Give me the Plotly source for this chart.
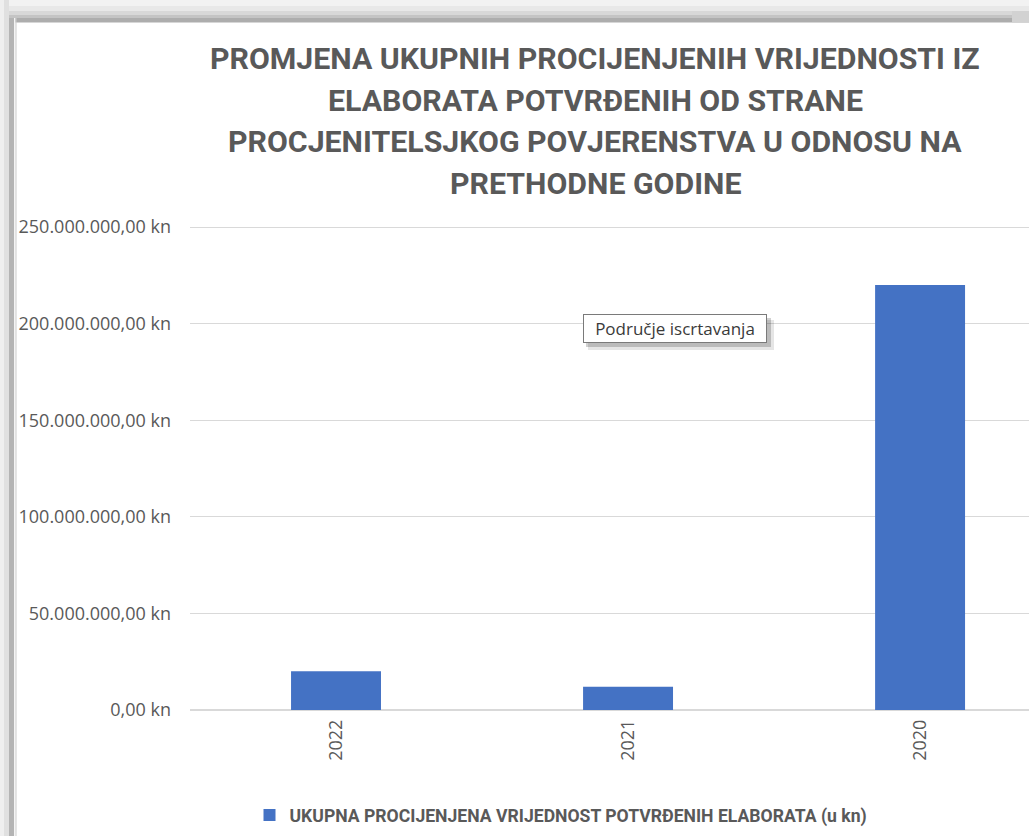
import plotly.graph_objects as go

# Data
years = ["2022", "2021", "2020"]
values_kn = [20_000_000, 12_000_000, 220_000_000]
series_name = "UKUPNA PROCIJENJENA VRIJEDNOST POTVRĐENIH ELABORATA (u kn)"
title_lines = [
    "PROMJENA UKUPNIH PROCIJENJENIH VRIJEDNOSTI IZ",
    "ELABORATA POTVRĐENIH OD STRANE",
    "PROCJENITELSJKOG POVJERENSTVA U ODNOSU NA",
    "PRETHODNE GODINE",
]
tooltip_text = "Područje iscrtavanja"

# Canvas / plot-area geometry (pixels)
W, H = 1029, 836
PL, PR, PT, PB = 190, 0, 217, 126
PW = W - PL - PR
PH = H - PT - PB


def px(x):
    return (x - PL) / PW


def py(y):
    return (H - PB - y) / PH


TEXT = "#595959"
BAR = "#4472C4"
GRID = "#d9d9d9"

fig = go.Figure()
fig.add_trace(go.Bar(
    x=years,
    y=values_kn,
    name=series_name,
    marker=dict(color=BAR, line=dict(width=0)),
    showlegend=True,
    hoverinfo="skip",
))

shapes = []


def rect(x0, y0, x1, y1, color, layer="above"):
    shapes.append(dict(type="rect", xref="paper", yref="paper",
                       x0=px(x0), x1=px(x1), y0=py(y0), y1=py(y1),
                       fillcolor=color, line=dict(width=0), layer=layer))


# window shadow frame along the top and left edges
for (a, b, c) in [(0, 6, "#f2f2f2"), (6, 11, "#e8e8e8"), (11, 15, "#d8d8d8"),
                  (15, 18, "#c4c4c4"), (18, 22.5, "#adadad")]:
    rect(0, a, W, b, c)
for (a, b, c) in [(0, 4, "#efefef"), (4, 9, "#e0e0e0"), (9, 14, "#b4b4b4"),
                  (14, 15.5, "#f4f4f4"), (15.5, 16.5, "#cccccc")]:
    rect(a, 18 if a >= 9 else 0, b, H, c)
# fade at the top-right end of the shadow
rect(1012, 11, W, 22.5, "#d2d2d2")

# tooltip drop shadow
rect(588, 320, 774, 350, "rgba(0,0,0,0.10)")
rect(586, 318, 771, 347, "rgba(0,0,0,0.18)")

annotations = []
line_centers = [58, 100, 142, 184]
for text, yc in zip(title_lines, line_centers):
    annotations.append(dict(
        text=f"<b>{text}</b>", xref="paper", yref="paper",
        x=px(595), y=py(yc), xanchor="center", yanchor="middle",
        showarrow=False,
        font=dict(family="Roboto", size=30.3, color=TEXT),
    ))

annotations.append(dict(
    text=tooltip_text, xref="paper", yref="paper",
    x=px(675), y=py(328.5), xanchor="center", yanchor="middle",
    showarrow=False, bgcolor="white", bordercolor="#7a7a7a", borderwidth=1,
    borderpad=2, width=178,
    font=dict(family="Open Sans", size=17, color="#3a3a3a"),
))

fig.update_layout(
    width=W, height=H, autosize=False,
    margin=dict(l=PL, r=PR, t=PT, b=PB, pad=0),
    paper_bgcolor="white", plot_bgcolor="white",
    separators=",.",
    bargap=0.692,
    showlegend=True,
    legend=dict(
        orientation="h", x=px(561), y=py(815), xanchor="center", yanchor="middle",
        font=dict(family="Roboto", size=17.6, color=TEXT, weight="bold"),
        itemwidth=30, bgcolor="rgba(0,0,0,0)",
    ),
    xaxis=dict(
        type="category", range=[-0.5, 2.373],
        showgrid=False, showline=False, zeroline=False, ticks="",
        tickangle=-90, ticklabelstandoff=5,
        tickfont=dict(family="Open Sans", size=18, color=TEXT),
    ),
    yaxis=dict(
        range=[0, 255.2e6], dtick=50e6, tick0=0,
        tickformat=",.2f", ticksuffix=" kn",
        showgrid=True, gridcolor=GRID, gridwidth=1,
        zeroline=True, zerolinecolor=GRID, zerolinewidth=1.5,
        showline=False, ticks="", ticklabelstandoff=18,
        tickfont=dict(family="Open Sans", size=18, color=TEXT),
    ),
    shapes=shapes,
    annotations=annotations,
    hovermode=False,
)

fig.write_html("out.html", config=dict(displayModeBar=False, staticPlot=True))
